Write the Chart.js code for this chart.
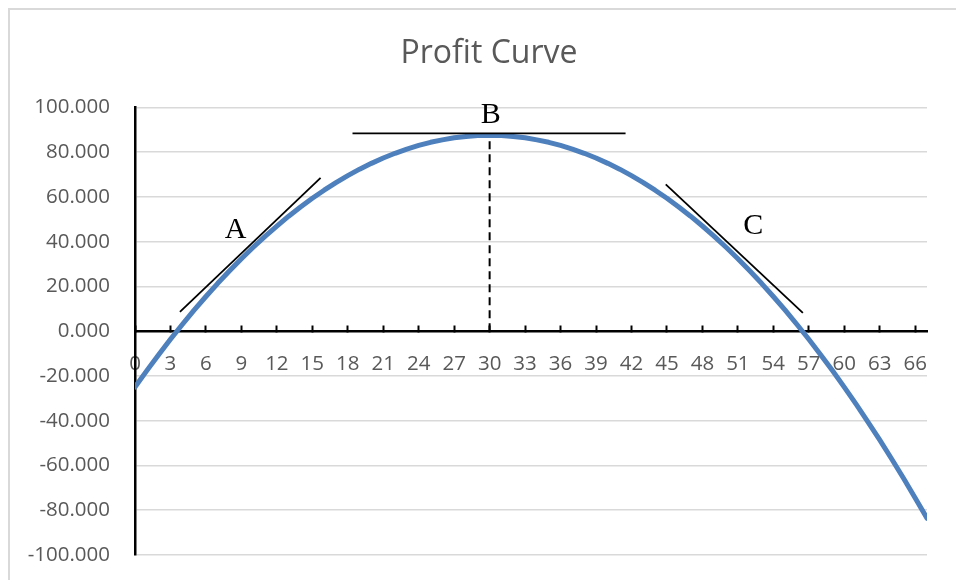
<!DOCTYPE html>
<html>
<head>
<meta charset="utf-8">
<script src="https://cdn.jsdelivr.net/npm/chart.js@4/dist/chart.umd.min.js"></script>
<style>
  html, body { margin: 0; padding: 0; background: #ffffff; }
  #wrap { width: 956px; height: 580px; position: relative; }
</style>
</head>
<body>
<div id="wrap"><canvas id="c" width="956" height="580"></canvas></div>
<script>
// ---- Data ----
const quantity = [0,1,2,3,4,5,6,7,8,9,10,11,12,13,14,15,16,17,18,19,20,21,22,23,24,25,26,27,28,29,30,31,32,33,34,35,36,37,38,39,40,41,42,43,44,45,46,47,48,49,50,51,52,53,54,55,56,57,58,59,60,61,62,63,64,65,66,67];
const profit = [-25.0,-17.6,-10.5,-3.6,3.0,9.4,15.5,21.4,27.0,32.4,37.5,42.4,47.0,51.4,55.5,59.4,63.0,66.4,69.5,72.4,75.0,77.4,79.5,81.4,83.0,84.4,85.5,86.4,87.0,87.4,87.5,87.4,87.0,86.4,85.5,84.4,83.0,81.4,79.5,77.4,75.0,72.4,69.5,66.4,63.0,59.4,55.5,51.4,47.0,42.4,37.5,32.4,27.0,21.4,15.5,9.4,3.0,-3.6,-10.5,-17.6,-25.0,-32.6,-40.5,-48.6,-57.0,-65.6,-74.5,-83.6];

// tangent segments (x, y endpoints)
const tangentAX = [3.8, 15.7];  const tangentAY = [8.6, 68.5];
const tangentBX = [18.4, 41.5]; const tangentBY = [88.4, 88.4];
const tangentCX = [44.9, 56.5]; const tangentCY = [65.6, 8.2];
// dashed drop line at the maximum
const peakX = [30, 30]; const peakY = [0, 86.8];
// point labels
const labelText = ['A', 'B', 'C'];
const labelX = [8.5, 30.1, 52.3];
const labelY = [45.4, 97.0, 47.2];

const titleText = 'Profit Curve';
const yTickMin = -100, yTickMax = 100, yTickStep = 20;
const xTickMin = 0, xTickMax = 67, xTickStep = 3;

const pts = (xs, ys) => xs.map((x, i) => ({ x: x, y: ys[i] }));

const frame = {
  id: 'frame',
  afterLayout(chart) {
    // the chart object is wider than the visible crop: centre the title on it
    if (chart.titleBlock) { chart.titleBlock.left = 10; chart.titleBlock.right = 968; }
  },
  beforeDraw(chart) {
    const ctx = chart.ctx;
    ctx.save();
    ctx.fillStyle = '#ffffff';
    ctx.fillRect(0, 0, chart.width, chart.height);
    ctx.strokeStyle = '#d9d9d9';
    ctx.lineWidth = 2;
    ctx.strokeRect(9, 9, chart.width + 20, chart.height + 20);
    ctx.restore();
  },
  afterDatasetsDraw(chart) {
    const ctx = chart.ctx;
    const xs = chart.scales.x, ys = chart.scales.y;
    ctx.save();
    ctx.fillStyle = '#000000';
    ctx.font = '30px "Liberation Serif", "Times New Roman", serif';
    ctx.textAlign = 'center';
    ctx.textBaseline = 'middle';
    labelText.forEach((t, i) => {
      ctx.fillText(t, xs.getPixelForValue(labelX[i]), ys.getPixelForValue(labelY[i]) + 1);
    });
    ctx.restore();
  }
};

const lineStyle = { borderColor: '#000000', borderWidth: 1.8, pointRadius: 0, fill: false, order: 0 };

new Chart(document.getElementById('c'), {
  type: 'line',
  data: {
    datasets: [
      Object.assign({ label: 'A', data: pts(tangentAX, tangentAY) }, lineStyle),
      Object.assign({ label: 'B', data: pts(tangentBX, tangentBY) }, lineStyle),
      Object.assign({ label: 'C', data: pts(tangentCX, tangentCY) }, lineStyle),
      { label: 'peak', data: pts(peakX, peakY), borderColor: '#000000', borderWidth: 2, borderDash: [8, 5], pointRadius: 0, fill: false, order: 0 },
      { label: 'Profit', data: pts(quantity, profit), borderColor: '#4e80bd', borderWidth: 5, pointRadius: 0, fill: false, tension: 0, borderCapStyle: 'round', borderJoinStyle: 'round', order: 1 }
    ]
  },
  options: {
    responsive: false,
    animation: false,
    layout: { padding: { top: 35, left: 10, right: 29, bottom: 25 } },
    plugins: {
      legend: { display: false },
      tooltip: { enabled: false },
      title: {
        display: true,
        text: titleText,
        color: '#595959',
        font: { family: '"Open Sans", sans-serif', size: 32, weight: 'normal' },
        padding: { top: 0, bottom: 34 }
      }
    },
    scales: {
      x: {
        type: 'linear',
        position: { y: 0 },
        min: xTickMin, max: xTickMax,
        afterFit(s) { s.height = 0; },
        border: { display: true, color: '#000000', width: 2.5 },
        grid: { display: true, drawOnChartArea: false, drawTicks: true, tickLength: -7, tickColor: '#000000', tickWidth: 2 },
        ticks: {
          stepSize: xTickStep, includeBounds: false, autoSkip: false, maxRotation: 0,
          padding: 28, color: '#595959',
          font: { family: '"Open Sans", sans-serif', size: 20.5 }
        }
      },
      y: {
        type: 'linear',
        min: yTickMin, max: yTickMax,
        afterFit(s) { s.width = 125; s.paddingTop = 12; s.paddingBottom = 12; },
        border: { display: true, color: '#000000', width: 2.5 },
        grid: { color: '#d9d9d9', lineWidth: 1.5, drawTicks: false },
        ticks: {
          stepSize: yTickStep, padding: 25, color: '#595959',
          font: { family: '"Open Sans", sans-serif', size: 20.5 },
          callback: v => Number(v).toFixed(3)
        }
      }
    }
  },
  plugins: [frame]
});
</script>
</body>
</html>
